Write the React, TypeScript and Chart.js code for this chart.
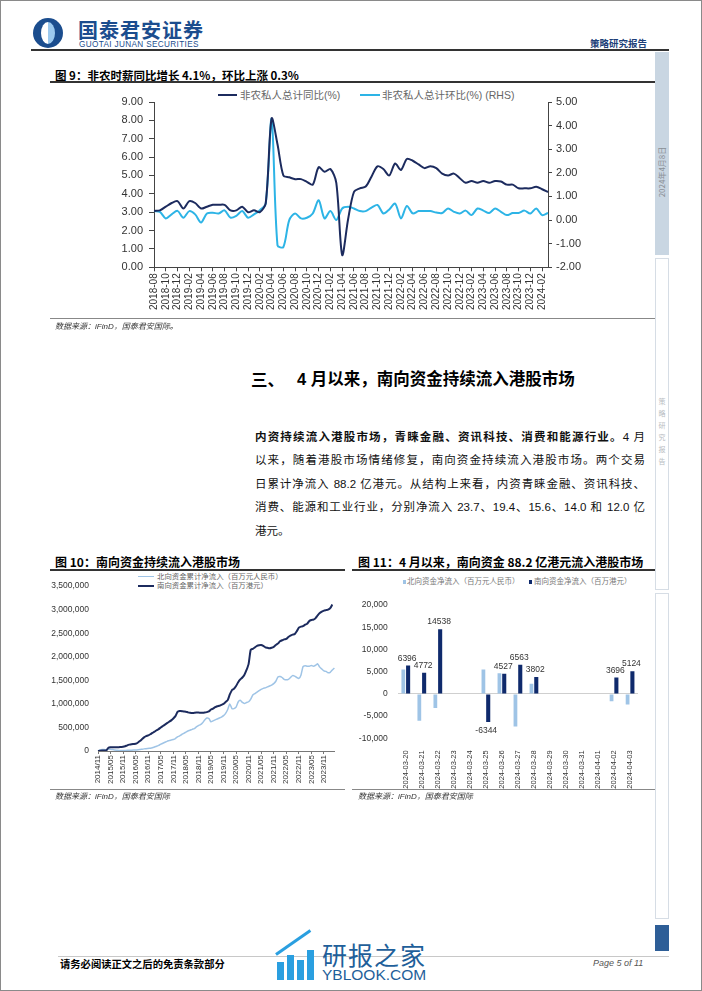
import React, { useEffect, useRef } from 'react';
import { Chart, registerables } from 'chart.js';

Chart.register(...registerables);

const FONT = "'Liberation Sans', 'Noto Sans CJK SC', sans-serif";
const CJK = "'Noto Sans CJK SC', 'Liberation Sans', sans-serif";
Chart.defaults.font.family = FONT;

// ---------- helpers for category labels ----------
function monthSeq(y: number, m: number, n: number, sep: string): string[] {
  const out: string[] = [];
  for (let k = 0; k < n; k++) {
    const t = y * 12 + (m - 1) + k;
    out.push(`${Math.floor(t / 12)}${sep}${String((t % 12) + 1).padStart(2, '0')}`);
  }
  return out;
}

// ---------- Figure 9 data (2018-08 .. 2024-03) ----------
const months9 = monthSeq(2018, 8, 68, '-');
const wageYoY = [
  3.07, 3.1, 3.3, 3.5, 3.6,
  3.2, 3.6, 3.5, 3.2, 3.3, 3.4, 3.4, 3.4, 3.1, 3.1, 3.3, 3.0,
  3.1, 3.0, 3.5, 8.1, 6.7, 5.0, 4.9, 4.8, 4.8, 4.65, 4.5, 5.45,
  5.2, 5.35, 4.6, 0.67, 2.6, 4.1, 4.3, 4.4, 4.95, 5.5, 5.35, 5.0,
  5.65, 5.3, 5.9, 5.8, 5.6, 5.4, 5.5, 5.4, 5.1, 5.0, 5.1, 4.85,
  4.6, 4.7, 4.6, 4.7, 4.6, 4.7, 4.67, 4.5, 4.5, 4.3, 4.3, 4.3,
  4.38, 4.25, 4.1,
];
const wageMoM = [
  0.38, 0.35, 0.07, 0.24, 0.39,
  0.1, 0.38, 0.24, -0.1, 0.28, 0.31, 0.28, 0.41, 0.1, 0.18, 0.38, 0.1,
  0.24, 0.42, 0.7, 4.28, -1.07, -1.14, 0.0, 0.28, 0.07, 0.1, 0.28, 0.84,
  0.07, 0.38, 0.0, 0.49, 0.56, 0.49, 0.38, 0.38, 0.53, 0.64, 0.28, 0.45,
  0.7, 0.07, 0.6, 0.28, 0.38, 0.38, 0.38, 0.32, 0.3, 0.49, 0.35, 0.28,
  0.4, 0.21, 0.49, 0.4, 0.3, 0.49, 0.35, 0.21, 0.3, 0.3, 0.4, 0.28,
  0.49, 0.21, 0.3,
];

// ---------- Figure 10 data (2014/11 .. 2024/04, monthly) ----------
const months10 = monthSeq(2014, 11, 114, '/');
const southCum = [
  0, 5000, 8000, 10000, 15000, 70000, 78000, 80000, 82000, 80000, 82000, 85000,
  88000, 100000, 120000, 135000, 145000, 150000, 155000, 175000, 210000, 250000, 290000, 315000,
  330000, 355000, 385000, 410000, 440000, 465000, 500000, 530000, 560000, 590000, 620000, 650000,
  690000, 740000, 830000, 850000, 845000, 840000, 835000, 820000, 810000, 805000, 810000, 815000,
  815000, 812000, 810000, 815000, 825000, 840000, 880000, 900000, 930000, 950000, 960000, 980000,
  1000000, 1040000, 1080000, 1200000, 1290000, 1320000, 1380000, 1460000, 1520000, 1560000, 1620000, 1720000,
  1850000, 2150000, 2170000, 2200000, 2230000, 2245000, 2250000, 2230000, 2200000, 2190000, 2180000, 2190000,
  2210000, 2250000, 2280000, 2330000, 2350000, 2370000, 2380000, 2420000, 2450000, 2470000, 2480000, 2540000,
  2620000, 2640000, 2650000, 2680000, 2700000, 2760000, 2780000, 2790000, 2820000, 2880000, 2930000, 2960000,
  2980000, 2990000, 3000000, 3030000, 3110000,
];
const northCum = [
  0, 20000, 30000, 30000, 25000, 40000, 35000, 30000, 20000, 15000, 10000, 12000,
  10000, 12000, 15000, 15000, 18000, 20000, 20000, 25000, 30000, 38000, 45000, 50000,
  55000, 60000, 70000, 85000, 100000, 120000, 145000, 165000, 185000, 205000, 220000, 235000,
  245000, 265000, 300000, 320000, 350000, 375000, 400000, 425000, 440000, 460000, 475000, 510000,
  540000, 560000, 600000, 660000, 700000, 690000, 620000, 640000, 660000, 680000, 700000, 720000,
  750000, 800000, 880000, 1000000, 900000, 900000, 930000, 1040000, 1075000, 1030000, 1010000, 1030000,
  1045000, 1100000, 1190000, 1220000, 1250000, 1280000, 1310000, 1330000, 1340000, 1360000, 1380000, 1400000,
  1430000, 1480000, 1570000, 1580000, 1560000, 1520000, 1510000, 1520000, 1560000, 1600000, 1590000, 1560000,
  1540000, 1610000, 1790000, 1810000, 1800000, 1800000, 1815000, 1800000, 1820000, 1850000, 1780000, 1740000,
  1700000, 1690000, 1660000, 1670000, 1720000, 1760000,
];

// ---------- Figure 11 data ----------
const days11 = [
  '2024-03-20', '2024-03-21', '2024-03-22', '2024-03-23', '2024-03-24', '2024-03-25', '2024-03-26',
  '2024-03-27', '2024-03-28', '2024-03-29', '2024-03-30', '2024-03-31', '2024-04-01', '2024-04-02', '2024-04-03',
];
const northFlow = [5500, -6070, -3200, null, null, 5500, 4640, -7350, 2290, null, null, null, null, -1640, -2360];
const southFlow = [6396, 4772, 14538, null, null, -6344, 4527, 6563, 3802, null, null, null, null, 3696, 5124];

const NAVY = '#1c2b5e';
const CYAN = '#2db4e6';
const LIGHTBLUE = '#9fc4e6';
const BARNAVY = '#0f2a6c';

// ---------- chart wrapper ----------
function ChartBox(props: { left: number; top: number; width: number; height: number; make: () => any }) {
  const ref = useRef<HTMLCanvasElement>(null);
  useEffect(() => {
    const chart = new Chart(ref.current as HTMLCanvasElement, props.make());
    return () => chart.destroy();
  }, []);
  return (
    <canvas
      ref={ref}
      width={props.width}
      height={props.height}
      style={{ position: 'absolute', left: props.left, top: props.top, width: props.width, height: props.height }}
    />
  );
}

function make9() {
  return {
    type: 'line',
    data: {
      labels: months9,
      datasets: [
        { label: '非农私人总计同比(%)', data: wageYoY, yAxisID: 'y', borderColor: NAVY, backgroundColor: NAVY, borderWidth: 2, pointRadius: 0, tension: 0.3 },
        { label: '非农私人总计环比(%) (RHS)', data: wageMoM, yAxisID: 'y1', borderColor: CYAN, backgroundColor: CYAN, borderWidth: 2, pointRadius: 0, tension: 0.3 },
      ],
    },
    options: {
      responsive: false,
      animation: false,
      events: [],
      layout: { padding: { top: 14, left: 0, right: 0, bottom: 0 } },
      plugins: { legend: { display: false }, tooltip: { enabled: false } },
      scales: {
        x: {
          type: 'category',
          offset: false,
          border: { display: true, color: '#444', width: 1 },
          grid: {
            drawOnChartArea: false,
            drawTicks: true,
            tickLength: 4,
            color: (c: any) => (c.index % 2 === 0 ? '#444' : 'rgba(0,0,0,0)'),
          },
          ticks: {
            autoSkip: false,
            maxRotation: 90,
            minRotation: 90,
            padding: 2,
            color: '#333',
            font: { size: 10, family: FONT },
            callback: (_v: any, i: number) => (i % 2 === 0 ? months9[i] : ''),
          },
          afterFit: (s: any) => { s.height = 52.7; },
        },
        y: {
          position: 'left',
          min: 0,
          max: 9,
          border: { display: true, color: '#444', width: 1 },
          grid: { drawOnChartArea: false, drawTicks: true, tickLength: 5, color: '#444' },
          ticks: { stepSize: 1, padding: 6, color: '#333', font: { size: 11, family: FONT }, callback: (v: any) => Number(v).toFixed(2) },
          afterFit: (s: any) => { s.width = 59; },
        },
        y1: {
          position: 'right',
          min: -2,
          max: 5,
          border: { display: true, color: '#444', width: 1 },
          grid: { drawOnChartArea: false, drawTicks: true, tickLength: 4, color: '#444' },
          ticks: { stepSize: 1, padding: 4, color: '#333', font: { size: 11, family: FONT }, callback: (v: any) => Number(v).toFixed(2) },
          afterFit: (s: any) => { s.width = 57; },
        },
      },
    },
  };
}

function make10() {
  return {
    type: 'line',
    data: {
      labels: months10,
      datasets: [
        { label: '南向资金累计净流入（百万港元）', data: southCum, borderColor: NAVY, backgroundColor: NAVY, borderWidth: 2, pointRadius: 0, tension: 0.2 },
        { label: '北向资金累计净流入（百万元人民币）', data: northCum, borderColor: LIGHTBLUE, backgroundColor: LIGHTBLUE, borderWidth: 1.5, pointRadius: 0, tension: 0.2 },
      ],
    },
    options: {
      responsive: false,
      animation: false,
      events: [],
      layout: { padding: { top: 10.7, left: 0, right: 4, bottom: 0 } },
      plugins: { legend: { display: false }, tooltip: { enabled: false } },
      scales: {
        x: {
          type: 'category',
          offset: false,
          border: { display: true, color: '#777', width: 1 },
          grid: {
            drawOnChartArea: false,
            drawTicks: true,
            tickLength: 3,
            color: (c: any) => (c.index % 6 === 0 ? '#777' : 'rgba(0,0,0,0)'),
          },
          ticks: {
            autoSkip: false,
            maxRotation: 90,
            minRotation: 90,
            padding: 1,
            color: '#333',
            font: { size: 8, family: FONT },
            callback: (_v: any, i: number) => (i % 6 === 0 ? months10[i] : ''),
          },
          afterFit: (s: any) => { s.height = 41; },
        },
        y: {
          min: 0,
          max: 3500000,
          border: { display: false },
          grid: { drawOnChartArea: false, drawTicks: false },
          ticks: { stepSize: 500000, padding: 9, color: '#333', font: { size: 8.5, family: FONT }, callback: (v: any) => Number(v).toLocaleString('en-US') },
          afterFit: (s: any) => { s.width = 58; },
        },
      },
    },
  };
}

const barValueLabels = {
  id: 'barValueLabels',
  afterDatasetsDraw(chart: any) {
    const ctx = chart.ctx;
    const meta = chart.getDatasetMeta(1);
    const vals = chart.data.datasets[1].data;
    ctx.save();
    ctx.font = `8.5px ${FONT}`;
    ctx.fillStyle = '#333';
    ctx.textAlign = 'center';
    meta.data.forEach((el: any, i: number) => {
      const v = vals[i];
      if (v === null || v === undefined || !isFinite(el.y)) return;
      if (v >= 0) {
        ctx.textBaseline = 'bottom';
        ctx.fillText(String(v), el.x - 1, el.y - 3);
      } else {
        ctx.textBaseline = 'top';
        ctx.fillText(String(v), el.x - 2, el.y + 4);
      }
    });
    ctx.restore();
  },
};

function make11() {
  return {
    type: 'bar',
    data: {
      labels: days11,
      datasets: [
        { label: '北向资金净流入（百万元人民币）', data: northFlow, backgroundColor: LIGHTBLUE, categoryPercentage: 0.6, barPercentage: 0.78 },
        { label: '南向资金净流入（百万港元）', data: southFlow, backgroundColor: BARNAVY, categoryPercentage: 0.6, barPercentage: 0.85 },
      ],
    },
    plugins: [barValueLabels],
    options: {
      responsive: false,
      animation: false,
      events: [],
      layout: { padding: { top: 8.3, left: 0, right: 7, bottom: 0 } },
      plugins: { legend: { display: false }, tooltip: { enabled: false } },
      scales: {
        x: {
          type: 'category',
          offset: true,
          border: { display: false },
          grid: { display: false },
          ticks: {
            autoSkip: false,
            maxRotation: 90,
            minRotation: 90,
            padding: 4,
            color: '#333',
            font: { size: 7.5, family: FONT },
          },
          afterFit: (s: any) => { s.height = 51.7; },
        },
        y: {
          min: -10000,
          max: 20000,
          border: { display: false },
          grid: {
            drawTicks: false,
            color: (c: any) => (c.tick && c.tick.value === 0 ? '#cfcfcf' : 'rgba(0,0,0,0)'),
          },
          ticks: { stepSize: 5000, padding: 10, color: '#333', font: { size: 8.5, family: FONT }, callback: (v: any) => Number(v).toLocaleString('en-US') },
          afterFit: (s: any) => { s.width = 52.7; },
        },
      },
    },
  };
}

// ---------- text helpers ----------
function T(props: { x: number; cy: number; size: number; children: any; bold?: boolean; color?: string; family?: string; italic?: boolean; style?: any }) {
  const lh = Math.round(props.size * 1.3);
  return (
    <div
      style={{
        position: 'absolute',
        left: props.x,
        top: props.cy - lh / 2,
        height: lh,
        lineHeight: `${lh}px`,
        fontSize: props.size,
        fontWeight: props.bold ? 700 : 400,
        fontStyle: props.italic ? 'italic' : 'normal',
        color: props.color || '#000',
        fontFamily: props.family || FONT,
        whiteSpace: 'nowrap',
        ...(props.style || {}),
      }}
    >
      {props.children}
    </div>
  );
}

function HLine(props: { x1: number; x2: number; y: number; h?: number; color?: string }) {
  return (
    <div style={{ position: 'absolute', left: props.x1, top: props.y, width: props.x2 - props.x1, height: props.h || 1, background: props.color || '#333' }} />
  );
}

function Box(props: { x: number; y: number; w: number; h: number; bg?: string; border?: string }) {
  return (
    <div style={{ position: 'absolute', left: props.x, top: props.y, width: props.w, height: props.h, background: props.bg || 'transparent', border: props.border || 'none', boxSizing: 'border-box' }} />
  );
}

const paraLine = (top: number, content: any, last = false) => (
  <div
    style={{
      position: 'absolute',
      left: 255,
      top: top - 10,
      width: 390,
      height: 20,
      lineHeight: '20px',
      fontSize: 11.5,
      fontFamily: FONT,
      color: '#111',
      textAlign: 'justify',
      textAlignLast: last ? 'left' : 'justify',
    } as any}
  >
    {content}
  </div>
);

export default function App() {
  return (
    <div style={{ position: 'absolute', left: 0, top: 0, width: 702, height: 991, background: '#fff', overflow: 'hidden', fontFamily: FONT }}>
      {/* page border */}
      <div style={{ position: 'absolute', left: 0, top: 0, width: 702, height: 991, border: '1px solid #8a8a8a', boxSizing: 'border-box' }} />

      {/* header */}
      <div style={{ position: 'absolute', left: 33, top: 18, width: 30, height: 30, borderRadius: '50%', background: '#1b4d8e' }} />
      <div style={{ position: 'absolute', left: 41, top: 22, width: 14, height: 22, borderRadius: '50%', background: 'linear-gradient(90deg, #ffffff 50%, #9cc9ee 50%)' }} />
      <T x={78} cy={30} size={20} bold color="#1b4d8e" family={CJK} style={{ letterSpacing: 1 }}>国泰君安证券</T>
      <T x={79} cy={44} size={8.2} color="#1b4d8e" style={{ letterSpacing: 0.35 }}>GUOTAI JUNAN SECURITIES</T>
      <T x={590} cy={43} size={9.5} bold color="#1d3f78" family={CJK}>策略研究报告</T>
      <HLine x1={31} x2={669} y={49} h={2} color="#333" />

      {/* right sidebar */}
      <Box x={655} y={52} w={14} h={203} bg="#c9d6e2" />
      <div style={{ position: 'absolute', left: 662 - 40, top: 172 - 6, width: 80, height: 12, lineHeight: '12px', textAlign: 'center', fontSize: 8, color: '#8a8f96', transform: 'rotate(-90deg)', fontFamily: CJK, whiteSpace: 'nowrap' }}>2024年4月8日</div>
      <Box x={655} y={258} w={14} h={332} bg="#fff" border="1px solid #d6dde5" />
      <div style={{ position: 'absolute', left: 657, top: 398, width: 10, writingMode: 'vertical-rl', fontSize: 7, letterSpacing: 5, color: '#b8bcc2', fontFamily: CJK } as any}>策略研究报告</div>
      <Box x={655} y={593} w={14} h={326} bg="#fff" border="1px solid #d6dde5" />
      <Box x={655} y={925} w={14} h={26} bg="#2e5e97" />

      {/* Figure 9 */}
      <T x={55} cy={75} size={11.5} bold family={CJK}>图 9：非农时薪同比增长 4.1%，环比上涨 0.3%</T>
      <HLine x1={50} x2={655} y={81} h={1.5} color="#333" />
      <div style={{ position: 'absolute', left: 218, top: 94, width: 19, height: 2, background: NAVY }} />
      <T x={240} cy={95} size={10.5} color="#666">非农私人总计同比(%)</T>
      <div style={{ position: 'absolute', left: 360, top: 94, width: 20, height: 2, background: CYAN }} />
      <T x={382} cy={95} size={10.5} color="#666">非农私人总计环比(%) (RHS)</T>
      <ChartBox left={95} top={88} width={510} height={232} make={make9} />
      <HLine x1={50} x2={655} y={318} h={1} color="#888" />
      <T x={55} cy={327} size={8} italic color="#333">数据来源：iFinD，国泰君安国际。</T>

      {/* Section 3 */}
      <T x={251} cy={379} size={16.5} bold family={CJK}>三、</T>
      <T x={297} cy={379} size={16.5} bold>4 月以来，南向资金持续流入港股市场</T>
      {paraLine(437, <><b>内资持续流入港股市场，青睐金融、资讯科技、消费和能源行业。</b>4 月</>)}
      {paraLine(460, '以来，随着港股市场情绪修复，南向资金持续流入港股市场。两个交易')}
      {paraLine(484, '日累计净流入 88.2 亿港元。从结构上来看，内资青睐金融、资讯科技、')}
      {paraLine(507, '消费、能源和工业行业，分别净流入 23.7、19.4、15.6、14.0 和 12.0 亿')}
      {paraLine(531, '港元。', true)}

      {/* Figure 10 */}
      <T x={55} cy={562} size={12} bold family={CJK}>图 10：南向资金持续流入港股市场</T>
      <HLine x1={50} x2={345} y={569} h={1.5} color="#333" />
      <div style={{ position: 'absolute', left: 138, top: 576, width: 16, height: 1, background: LIGHTBLUE }} />
      <T x={157} cy={577} size={7.4} color="#666">北向资金累计净流入（百万元人民币）</T>
      <div style={{ position: 'absolute', left: 138, top: 585, width: 16, height: 2, background: NAVY }} />
      <T x={157} cy={586} size={7.4} color="#666">南向资金累计净流入（百万港元）</T>
      <ChartBox left={40} top={572} width={305} height={220} make={make10} />
      <HLine x1={50} x2={345} y={789} h={1} color="#888" />
      <T x={55} cy={797} size={8} italic color="#333">数据来源：iFinD，国泰君安国际</T>

      {/* Figure 11 */}
      <T x={358} cy={562} size={12} bold family={CJK}>图 11：4 月以来，南向资金 88.2 亿港元流入港股市场</T>
      <HLine x1={352} x2={655} y={569} h={1.5} color="#333" />
      <div style={{ position: 'absolute', left: 403, top: 580, width: 3, height: 4, background: LIGHTBLUE }} />
      <T x={407} cy={582} size={7.5} color="#777">北向资金净流入（百万元人民币）</T>
      <div style={{ position: 'absolute', left: 529, top: 580, width: 3, height: 4, background: BARNAVY }} />
      <T x={534} cy={582} size={7.5} color="#777">南向资金净流入（百万港元）</T>
      <ChartBox left={345} top={590} width={300} height={200} make={make11} />
      <HLine x1={352} x2={655} y={789} h={1} color="#888" />
      <T x={358} cy={797} size={8} italic color="#333">数据来源：iFinD，国泰君安国际</T>

      {/* footer */}
      <HLine x1={58} x2={669} y={956} h={1} color="#c8c8c8" />
      <T x={60} cy={963} size={10.3} bold family={CJK}>请务必阅读正文之后的免责条款部分</T>
      <T x={593} cy={963} size={9} italic color="#555">Page 5 of 11</T>

      {/* watermark */}
      <div style={{ position: 'absolute', left: 277, top: 962, width: 7, height: 18, background: '#2a9fe0' }} />
      <div style={{ position: 'absolute', left: 287, top: 955, width: 7, height: 25, background: '#2a9fe0' }} />
      <div style={{ position: 'absolute', left: 297, top: 960, width: 7, height: 20, background: '#2a9fe0' }} />
      <div style={{ position: 'absolute', left: 307, top: 950, width: 7, height: 30, background: '#2a9fe0' }} />
      <div style={{ position: 'absolute', left: 276, top: 953, width: 42, height: 3, background: '#2a9fe0', transform: 'rotate(-35deg)', transformOrigin: 'left center' }} />
      <T x={322} cy={954} size={25} family={CJK} color="#1f5f9a" style={{ letterSpacing: 1 }}>研报之家</T>
      <T x={322} cy={975} size={15.5} color="#1f5f9a">YBLOOK.COM</T>
    </div>
  );
}
